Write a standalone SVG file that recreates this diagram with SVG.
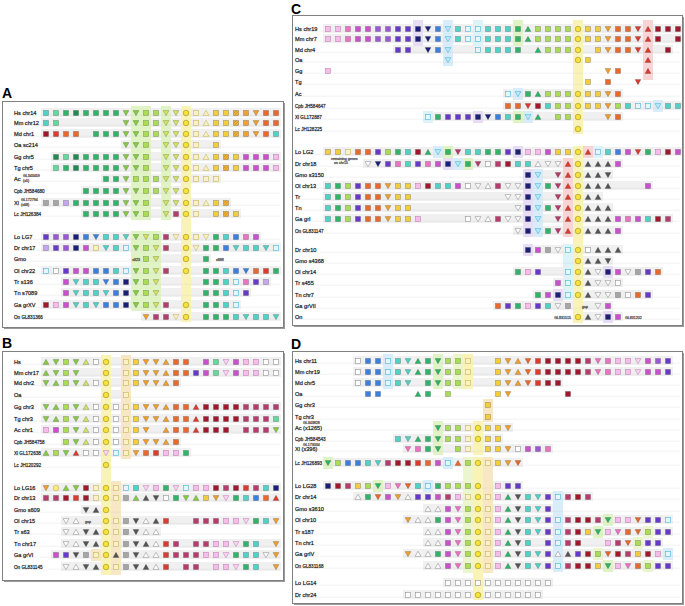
<svg xmlns="http://www.w3.org/2000/svg" width="685" height="606" viewBox="0 0 685 606">
<style>
.lb{font-family:"Liberation Sans",Arial,sans-serif;font-size:5.6px;fill:#1a1a1a}
.ls{font-size:4.6px}
.sm{font-family:"Liberation Sans",Arial,sans-serif;font-size:3.6px;fill:#444}
.pl{font-family:"Liberation Sans",Arial,sans-serif;font-size:14px;font-weight:bold;fill:#000}
.ln{stroke:#cbcbcb;stroke-width:.7;fill:none}
.fr{fill:#fff;stroke:#808080;stroke-width:1}
.sh{fill:#9a9a9a}
.bk{fill:#f0f0f0}
.sy{stroke:#000;stroke-opacity:.35;stroke-width:.55}
.hg{fill:#e0f3c4}.hy{fill:#faf3b6}.ht{fill:#f8e7c4}.hb{fill:#d9ecf9}.hp{fill:#e7def6}.hr{fill:#f9d4d4}.hc{fill:#dcf4f8}.hl{fill:#ebf6cf}
</style>
<defs>
<pattern id="ph" width="2" height="2" patternUnits="userSpaceOnUse" patternTransform="rotate(45)"><rect width="2" height="2" fill="#f2c440"/><rect width="1" height="2" fill="#d98a20"/></pattern>
<rect id="q" x="-2.5" y="-2.5" width="5" height="5"/>
<path id="d" d="M-2.9-2.4H2.9L0 2.7Z"/>
<path id="u" d="M0-2.7L2.9 2.4H-2.9Z"/>
<circle id="o" r="2.8"/>
<use id="qa" href="#q" fill="#4fd3c6"/><use id="qb" href="#q" fill="#62d99d"/><use id="qg" href="#q" fill="#2eb56a"/><use id="qG" href="#q" fill="#1e8c50"/>
<use id="qL" href="#q" fill="#abdc56"/><use id="qk" href="#q" fill="#f2cd3c"/><use id="qh" href="#q" fill="url(#ph)"/><use id="qo" href="#q" fill="#f0a02c"/>
<use id="qO" href="#q" fill="#e9682b"/><use id="qr" href="#q" fill="#df3a2e"/><use id="qR" href="#q" fill="#a3172d"/><use id="qx" href="#q" fill="#b73b6c"/>
<use id="qM" href="#q" fill="#ee72c3"/><use id="qm" href="#q" fill="#cc4fcf"/><use id="qn" href="#q" fill="#f3bfe8" stroke="#c47ab5" stroke-opacity="1"/><use id="qe" href="#q" fill="#c6a6ee"/>
<use id="qV" href="#q" fill="#9a58d6"/><use id="qv" href="#q" fill="#6638cc"/><use id="qB" href="#q" fill="#3b7fe0"/><use id="qN" href="#q" fill="#1b1f78"/>
<use id="qc" href="#q" fill="#e4f7fd" stroke="#3aaed6" stroke-opacity="1"/><use id="qw" href="#q" fill="#fff" stroke="#8a8a8a" stroke-opacity="1"/><use id="qs" href="#q" fill="#a6a6a6"/><use id="qS" href="#q" fill="#555"/>
<use id="qp" href="#q" fill="#f9f2c6" stroke="#c4ae55" stroke-opacity="1"/>
<use id="dl" href="#d" fill="#86cc45"/><use id="dy" href="#d" fill="#d4e45f"/><use id="do" href="#d" fill="#f0a02c"/><use id="dO" href="#d" fill="#e9682b"/>
<use id="dr" href="#d" fill="#df3a2e"/><use id="da" href="#d" fill="#4fd3c6"/><use id="dB" href="#d" fill="#3b7fe0"/><use id="dN" href="#d" fill="#1b1f78"/>
<use id="dc" href="#d" fill="#bfe9f8" stroke="#3aaed6" stroke-opacity="1"/><use id="dn" href="#d" fill="#f8d8f0" stroke="#c47ab5" stroke-opacity="1"/><use id="dp" href="#d" fill="#f9f2c6" stroke="#c4ae55" stroke-opacity="1"/><use id="dw" href="#d" fill="#fff" stroke="#8a8a8a" stroke-opacity="1"/>
<use id="dS" href="#d" fill="#555"/><use id="dg" href="#d" fill="#2eb56a"/><use id="dM" href="#d" fill="#ee72c3"/><use id="dx" href="#d" fill="#b73b6c"/>
<use id="ul" href="#u" fill="#86cc45"/><use id="uy" href="#u" fill="#d4e45f"/><use id="up" href="#u" fill="#f9f2c6" stroke="#c4ae55" stroke-opacity="1"/><use id="uo" href="#u" fill="#f0a02c"/>
<use id="ug" href="#u" fill="#2eb56a"/><use id="ur" href="#u" fill="#df3a2e"/><use id="uw" href="#u" fill="#fff" stroke="#8a8a8a" stroke-opacity="1"/><use id="uS" href="#u" fill="#555"/><use id="uO" href="#u" fill="#e9682b"/>
<use id="oY" href="#o" fill="#f5e23a" stroke="#7d6e00" stroke-opacity=".8"/><use id="ok" href="#o" fill="#fbe98a" stroke="#b59a00" stroke-opacity=".8"/>
</defs>
<rect width="685" height="606" fill="#fff"/>
<g id="frames">
<rect class="sh" x="4" y="103" width="281" height="226"/><rect class="fr" x="2.5" y="101.5" width="281" height="226"/>
<rect class="sh" x="4" y="353" width="281" height="229"/><rect class="fr" x="2.5" y="351.5" width="281" height="229"/>
<rect class="sh" x="294" y="17" width="390" height="310"/><rect class="fr" x="292.5" y="15.5" width="390" height="310"/>
<rect class="sh" x="294" y="353" width="390" height="252"/><rect class="fr" x="292.5" y="351.5" width="390" height="252"/>
</g>
<text class="pl" x="2" y="98">A</text>
<text class="pl" x="2" y="348">B</text>
<text class="pl" x="291" y="13.5">C</text>
<text class="pl" x="291" y="349">D</text>
<g id="blocks">
<rect class="bk" x="41" y="108" width="240" height="9"/><rect class="bk" x="41" y="118" width="240" height="9"/><rect class="bk" x="41" y="129" width="240" height="9"/><rect class="bk" x="121" y="140" width="100" height="9"/><rect class="bk" x="51" y="152" width="230" height="9"/><rect class="bk" x="51" y="163" width="230" height="9"/><rect class="bk" x="101" y="174" width="120" height="9"/><rect class="bk" x="81" y="186" width="110" height="9"/><rect class="bk" x="41" y="198" width="190" height="9"/><rect class="bk" x="81" y="209" width="160" height="9"/>
<rect class="bk" x="41" y="232" width="220" height="9"/><rect class="bk" x="41" y="243" width="240" height="9"/><rect class="bk" x="141" y="254" width="70" height="9"/><rect class="bk" x="41" y="266" width="240" height="9"/><rect class="bk" x="61" y="277" width="210" height="9"/><rect class="bk" x="61" y="288" width="190" height="9"/><rect class="bk" x="41" y="300" width="200" height="9"/><rect class="bk" x="141" y="312" width="140" height="9"/>
<rect class="bk" x="41" y="357" width="240" height="9"/><rect class="bk" x="41" y="368" width="240" height="9"/><rect class="bk" x="41" y="378" width="140" height="9"/><rect class="bk" x="101" y="390" width="30" height="9"/><rect class="bk" x="41" y="402" width="240" height="9"/><rect class="bk" x="41" y="414" width="240" height="9"/><rect class="bk" x="41" y="425" width="240" height="9"/><rect class="bk" x="61" y="437" width="120" height="9"/><rect class="bk" x="41" y="448" width="150" height="9"/>
<rect class="bk" x="41" y="483" width="240" height="9"/><rect class="bk" x="41" y="493" width="240" height="9"/><rect class="bk" x="81" y="505" width="30" height="9"/><rect class="bk" x="61" y="516" width="220" height="9"/><rect class="bk" x="61" y="527" width="100" height="9"/><rect class="bk" x="61" y="539" width="220" height="9"/><rect class="bk" x="51" y="550" width="230" height="9"/><rect class="bk" x="61" y="562" width="220" height="9"/>
<rect class="bk" x="323" y="24" width="359" height="9"/><rect class="bk" x="323" y="34" width="359" height="9"/><rect class="bk" x="393" y="45" width="280" height="9"/><rect class="bk" x="503" y="89" width="120" height="9"/><rect class="bk" x="503" y="101" width="179" height="9"/><rect class="bk" x="423" y="112" width="200" height="9"/>
<rect class="bk" x="323" y="147" width="359" height="9"/><rect class="bk" x="363" y="159" width="260" height="9"/><rect class="bk" x="523" y="170" width="90" height="9"/><rect class="bk" x="323" y="181" width="330" height="9"/><rect class="bk" x="323" y="192" width="280" height="9"/><rect class="bk" x="323" y="203" width="290" height="9"/><rect class="bk" x="323" y="214" width="350" height="9"/><rect class="bk" x="513" y="226" width="110" height="9"/>
<rect class="bk" x="523" y="245" width="100" height="9"/><rect class="bk" x="573" y="256" width="40" height="9"/><rect class="bk" x="513" y="267" width="150" height="9"/><rect class="bk" x="553" y="278" width="70" height="9"/><rect class="bk" x="533" y="290" width="120" height="9"/><rect class="bk" x="493" y="301" width="120" height="9"/><rect class="bk" x="573" y="312" width="50" height="9"/>
<rect class="bk" x="353" y="356" width="320" height="9"/><rect class="bk" x="353" y="367" width="320" height="9"/><rect class="bk" x="353" y="378" width="210" height="9"/><rect class="bk" x="433" y="423" width="80" height="9"/><rect class="bk" x="393" y="434" width="110" height="9"/><rect class="bk" x="403" y="444" width="150" height="9"/><rect class="bk" x="323" y="458" width="200" height="9"/>
<rect class="bk" x="323" y="481" width="200" height="9"/><rect class="bk" x="353" y="492" width="240" height="9"/><rect class="bk" x="423" y="504" width="130" height="9"/><rect class="bk" x="403" y="515" width="270" height="9"/><rect class="bk" x="423" y="527" width="250" height="9"/><rect class="bk" x="423" y="538" width="240" height="9"/><rect class="bk" x="403" y="549" width="270" height="9"/><rect class="bk" x="423" y="561" width="250" height="9"/><rect class="bk" x="443" y="578" width="110" height="9"/><rect class="bk" x="403" y="590" width="140" height="9"/>
</g>
<g id="highlights">
<rect class="hg" x="131" y="106" width="20" height="114"/><rect class="hg" x="161" y="106" width="10" height="114"/><rect class="hg" x="131" y="231" width="30" height="80"/><rect class="hy" x="181" y="106" width="10" height="216"/>
<rect class="hy" x="101" y="355" width="10" height="220"/><rect class="ht" x="121" y="355" width="10" height="104"/><rect class="ht" x="111" y="481" width="10" height="94"/><rect class="ht" x="91" y="549" width="10" height="12"/>
<rect class="hp" x="413" y="20" width="10" height="26"/><rect class="hb" x="443" y="20" width="10" height="46"/><rect class="hc" x="473" y="20" width="10" height="26"/><rect class="hg" x="513" y="20" width="10" height="26"/><rect class="hy" x="573" y="20" width="10" height="114"/><rect class="hr" x="643" y="20" width="10" height="60"/>
<rect class="hb" x="513" y="88" width="10" height="12"/><rect class="hb" x="653" y="100" width="10" height="12"/>
<rect class="hc" x="423" y="111" width="10" height="12"/><rect class="hp" x="473" y="111" width="10" height="12"/><rect class="hg" x="513" y="111" width="10" height="12"/><rect class="hb" x="523" y="111" width="10" height="12"/>
<rect class="hb" x="433" y="146" width="10" height="12"/><rect class="hg" x="443" y="146" width="10" height="12"/><rect class="hp" x="513" y="146" width="10" height="12"/><rect class="hr" x="583" y="146" width="10" height="12"/><rect class="hc" x="593" y="146" width="10" height="12"/>
<rect class="hp" x="443" y="158" width="10" height="12"/><rect class="hb" x="453" y="158" width="10" height="12"/><rect class="hg" x="463" y="158" width="10" height="12"/>
<rect class="hp" x="523" y="169" width="10" height="68"/><rect class="hb" x="533" y="169" width="10" height="68"/><rect class="hr" x="563" y="158" width="10" height="79"/><rect class="hy" x="573" y="146" width="10" height="177"/>
<rect class="hc" x="563" y="244" width="10" height="56"/><rect class="hp" x="523" y="244" width="10" height="12"/><rect class="hp" x="603" y="266" width="10" height="12"/><rect class="hp" x="553" y="289" width="10" height="12"/><rect class="hp" x="603" y="311" width="10" height="12"/>
<rect class="hb" x="383" y="354" width="10" height="35"/><rect class="hg" x="433" y="354" width="10" height="35"/><rect class="hl" x="453" y="354" width="10" height="35"/><rect class="hy" x="463" y="354" width="10" height="35"/>
<rect class="ht" x="483" y="399" width="10" height="23"/><rect class="hg" x="433" y="421" width="10" height="34"/><rect class="hy" x="473" y="421" width="10" height="34"/>
<rect class="hg" x="323" y="457" width="10" height="12"/><rect class="hb" x="443" y="457" width="10" height="12"/><rect class="hg" x="373" y="480" width="10" height="12"/><rect class="hb" x="423" y="480" width="10" height="12"/>
<rect class="hl" x="463" y="457" width="10" height="116"/><rect class="hy" x="473" y="457" width="10" height="143"/><rect class="ht" x="483" y="457" width="10" height="116"/><rect class="hb" x="553" y="491" width="10" height="81"/>
<rect class="hg" x="603" y="514" width="10" height="12"/><rect class="hg" x="593" y="526" width="10" height="12"/><rect class="hl" x="643" y="526" width="10" height="12"/><rect class="hl" x="633" y="537" width="10" height="12"/><rect class="hl" x="593" y="548" width="10" height="12"/><rect class="hb" x="663" y="548" width="10" height="12"/><rect class="hg" x="603" y="560" width="10" height="12"/><rect class="hl" x="643" y="560" width="10" height="12"/>
</g>
<g id="panelA" class="sy">
<g id="A1" transform="translate(0,113)"><path class="ln" d="M14 2.2H280"/><text class="lb" x="14" y="1.5">Hs chr14</text><use href="#qa" x="46"/><use href="#qb" x="56"/><use href="#qg" x="66"/><use href="#qG" x="76"/><use href="#qg" x="86"/><use href="#qg" x="96"/><use href="#qg" x="106"/><use href="#qg" x="116"/><use href="#dl" x="126"/><use href="#dl" x="136"/><use href="#qL" x="146"/><use href="#qL" x="156"/><use href="#dy" x="166"/><use href="#dy" x="176"/><use href="#oY" x="186"/><use href="#qp" x="196"/><use href="#up" x="206"/><use href="#qk" x="216"/><use href="#qk" x="226"/><use href="#qh" x="236"/><use href="#qo" x="246"/><use href="#do" x="256"/><use href="#qO" x="266"/><use href="#qO" x="276"/></g>
<g id="A2" transform="translate(0,123)"><path class="ln" d="M14 2.2H280"/><text class="lb" x="14" y="1.5">Mm chr12</text><use href="#qa" x="46"/><use href="#qb" x="56"/><use href="#dl" x="126"/><use href="#dl" x="136"/><use href="#qL" x="146"/><use href="#qL" x="156"/><use href="#dy" x="166"/><use href="#dy" x="176"/><use href="#oY" x="186"/><use href="#qp" x="196"/><use href="#up" x="206"/><use href="#qk" x="216"/><use href="#qk" x="226"/><use href="#qh" x="236"/><use href="#qo" x="246"/><use href="#do" x="256"/><use href="#qO" x="266"/><use href="#qO" x="276"/></g>
<g id="A3" transform="translate(0,134)"><path class="ln" d="M14 2.2H280"/><text class="lb" x="14" y="1.5">Md chr1</text><use href="#qR" x="46"/><use href="#qr" x="56"/><use href="#qO" x="66"/><use href="#qO" x="76"/><use href="#qg" x="96"/><use href="#qg" x="106"/><use href="#qg" x="116"/><use href="#dl" x="126"/><use href="#dl" x="136"/><use href="#qL" x="146"/><use href="#qL" x="156"/><use href="#dy" x="166"/><use href="#dy" x="176"/><use href="#oY" x="186"/><use href="#qp" x="196"/><use href="#up" x="206"/><use href="#qk" x="216"/><use href="#qk" x="226"/><use href="#qh" x="236"/><use href="#qo" x="246"/><use href="#do" x="256"/><use href="#qO" x="266"/><use href="#qa" x="276"/></g>
<g id="A4" transform="translate(0,145)"><path class="ln" d="M14 2.2H280"/><text class="lb" x="14" y="1.5">Oa sc214</text><use href="#dl" x="126"/><use href="#dl" x="136"/><use href="#qL" x="146"/><use href="#dy" x="166"/><use href="#dy" x="176"/><use href="#oY" x="186"/><use href="#qp" x="196"/><use href="#qk" x="216"/></g>
<g id="A5" transform="translate(0,157)"><path class="ln" d="M14 2.2H280"/><text class="lb" x="14" y="1.5">Gg chr5</text><use href="#qG" x="56"/><use href="#qb" x="66"/><use href="#qG" x="76"/><use href="#qg" x="86"/><use href="#qg" x="96"/><use href="#qg" x="106"/><use href="#qg" x="116"/><use href="#dl" x="126"/><use href="#dl" x="136"/><use href="#qL" x="146"/><use href="#dy" x="166"/><use href="#dy" x="176"/><use href="#oY" x="186"/><use href="#qp" x="196"/><use href="#up" x="206"/><use href="#qk" x="216"/><use href="#qh" x="226"/><use href="#qk" x="236"/><use href="#qm" x="246"/><use href="#qm" x="256"/><use href="#qm" x="266"/><use href="#qn" x="276"/></g>
<g id="A6" transform="translate(0,168)"><path class="ln" d="M14 2.2H280"/><text class="lb" x="14" y="1.5">Tg chr5</text><use href="#qb" x="56"/><use href="#qg" x="66"/><use href="#qG" x="76"/><use href="#qg" x="86"/><use href="#qg" x="96"/><use href="#qg" x="106"/><use href="#qg" x="116"/><use href="#dl" x="126"/><use href="#dl" x="136"/><use href="#qL" x="146"/><use href="#dy" x="166"/><use href="#dy" x="176"/><use href="#oY" x="186"/><use href="#qp" x="196"/><use href="#up" x="206"/><use href="#qk" x="216"/><use href="#qh" x="226"/><use href="#qk" x="236"/><use href="#qm" x="246"/><use href="#qm" x="256"/><use href="#qm" x="266"/><use href="#qn" x="276"/></g>
<g id="A7" transform="translate(0,179)"><path class="ln" d="M14 2.2H280"/><text class="lb" x="14" y="1.5">Ac</text><text class="sm" x="23" y="-2">GL343459</text><text class="sm" x="23" y="3">(x5)</text><use href="#qg" x="106"/><use href="#qg" x="116"/><use href="#dl" x="126"/><use href="#qL" x="136"/><use href="#qL" x="146"/><use href="#qL" x="156"/><use href="#dy" x="166"/><use href="#dy" x="176"/><use href="#oY" x="186"/><use href="#qp" x="196"/><use href="#qp" x="206"/><use href="#qp" x="216"/></g>
<g id="A8" transform="translate(0,191)"><path class="ln" d="M14 2.2H280"/><text class="lb ls" x="14" y="1.5">Cpb JH584680</text><use href="#qg" x="86"/><use href="#qg" x="96"/><use href="#qg" x="106"/><use href="#qg" x="116"/><use href="#dl" x="126"/><use href="#dl" x="136"/><use href="#qL" x="146"/><use href="#qL" x="156"/><use href="#dy" x="166"/><use href="#dy" x="176"/><use href="#oY" x="186"/></g>
<g id="A9" transform="translate(0,203)"><path class="ln" d="M14 2.2H280"/><text class="lb" x="14" y="1.5">Xl</text><text class="sm" x="21" y="-2">GL172794</text><text class="sm" x="21" y="3">(x68)</text><use href="#qs" x="46"/><use href="#qs" x="56"/><use href="#qe" x="66"/><use href="#qg" x="76"/><use href="#qg" x="86"/><use href="#qg" x="96"/><use href="#qg" x="106"/><use href="#qg" x="116"/><use href="#dl" x="126"/><use href="#dl" x="136"/><use href="#qL" x="146"/><use href="#dy" x="166"/><use href="#dy" x="176"/><use href="#oY" x="186"/><use href="#qp" x="196"/><use href="#up" x="206"/><use href="#qk" x="216"/><use href="#qh" x="226"/></g>
<g id="A10" transform="translate(0,214)"><path class="ln" d="M14 2.2H280"/><text class="lb ls" x="14" y="1.5">Lc JH126384</text><use href="#qg" x="86"/><use href="#qg" x="96"/><use href="#qg" x="106"/><use href="#qg" x="116"/><use href="#dl" x="126"/><use href="#dl" x="136"/><use href="#qL" x="146"/><use href="#dy" x="166"/><use href="#qx" x="176"/><use href="#oY" x="186"/><use href="#qp" x="196"/><use href="#qk" x="216"/><use href="#qh" x="226"/><use href="#qk" x="236"/></g>
<g id="A11" transform="translate(0,237)"><path class="ln" d="M14 2.2H280"/><text class="lb" x="14" y="1.5">Lo LG7</text><use href="#qv" x="46"/><use href="#qV" x="56"/><use href="#qV" x="66"/><use href="#qN" x="76"/><use href="#qB" x="86"/><use href="#dB" x="96"/><use href="#qa" x="106"/><use href="#qa" x="116"/><use href="#da" x="126"/><use href="#dl" x="136"/><use href="#dy" x="146"/><use href="#qL" x="156"/><use href="#qx" x="166"/><use href="#dp" x="176"/><use href="#oY" x="186"/><use href="#qp" x="196"/><use href="#dp" x="206"/><use href="#qg" x="216"/><use href="#qa" x="226"/><use href="#qB" x="236"/><use href="#qM" x="246"/><use href="#qm" x="256"/></g>
<g id="A12" transform="translate(0,248)"><path class="ln" d="M14 2.2H280"/><text class="lb" x="14" y="1.5">Dr chr17</text><use href="#qe" x="46"/><use href="#qv" x="56"/><use href="#qV" x="66"/><use href="#qN" x="76"/><use href="#qm" x="86"/><use href="#qp" x="96"/><use href="#da" x="106"/><use href="#qa" x="116"/><use href="#qc" x="126"/><use href="#dl" x="136"/><use href="#qL" x="146"/><use href="#dy" x="156"/><use href="#qx" x="166"/><use href="#oY" x="186"/><use href="#dp" x="196"/><use href="#qg" x="206"/><use href="#qg" x="216"/><use href="#qB" x="226"/><use href="#da" x="236"/><use href="#qa" x="246"/><use href="#qa" x="256"/><use href="#da" x="266"/><use href="#qc" x="276"/></g>
<g id="A13" transform="translate(0,259)"><path class="ln" d="M14 2.2H280"/><text class="lb" x="14" y="1.5">Gmo</text><text class="sm" x="140" y="1.5" text-anchor="end">s923</text><text class="sm" x="216" y="1.5">s888</text><use href="#qL" x="146"/><use href="#dy" x="156"/><use href="#oY" x="186"/><use href="#qg" x="206"/></g>
<g id="A14" transform="translate(0,271)"><path class="ln" d="M14 2.2H280"/><text class="lb" x="14" y="1.5">Ol chr22</text><use href="#qc" x="46"/><use href="#qw" x="56"/><use href="#qv" x="66"/><use href="#qm" x="76"/><use href="#qm" x="86"/><use href="#qB" x="96"/><use href="#qB" x="106"/><use href="#qa" x="116"/><use href="#qc" x="126"/><use href="#dl" x="136"/><use href="#qL" x="146"/><use href="#dy" x="156"/><use href="#qx" x="166"/><use href="#oY" x="186"/><use href="#qg" x="206"/><use href="#qg" x="216"/><use href="#qa" x="226"/><use href="#qB" x="236"/><use href="#dB" x="246"/><use href="#qO" x="256"/><use href="#qr" x="266"/><use href="#qg" x="276"/></g>
<g id="A15" transform="translate(0,282)"><path class="ln" d="M14 2.2H280"/><text class="lb" x="14" y="1.5">Tr s136</text><use href="#qm" x="66"/><use href="#da" x="76"/><use href="#qa" x="86"/><use href="#qa" x="96"/><use href="#dB" x="106"/><use href="#qB" x="116"/><use href="#qN" x="126"/><use href="#dl" x="136"/><use href="#qL" x="146"/><use href="#dy" x="156"/><use href="#qg" x="206"/><use href="#qg" x="216"/><use href="#qa" x="226"/><use href="#qc" x="236"/><use href="#qM" x="246"/><use href="#qv" x="256"/><use href="#qe" x="266"/></g>
<g id="A16" transform="translate(0,293)"><path class="ln" d="M14 2.2H280"/><text class="lb" x="14" y="1.5">Tn s7089</text><use href="#qm" x="66"/><use href="#da" x="76"/><use href="#qa" x="86"/><use href="#qa" x="96"/><use href="#da" x="106"/><use href="#qB" x="116"/><use href="#qN" x="126"/><use href="#dl" x="136"/><use href="#qL" x="146"/><use href="#dy" x="156"/><use href="#qg" x="206"/><use href="#qg" x="216"/><use href="#qa" x="226"/><use href="#qc" x="236"/><use href="#qv" x="246"/></g>
<g id="A17" transform="translate(0,305)"><path class="ln" d="M14 2.2H280"/><text class="lb" x="14" y="1.5">Ga grXV</text><use href="#qR" x="46"/><use href="#qn" x="56"/><use href="#qm" x="66"/><use href="#da" x="76"/><use href="#qa" x="86"/><use href="#da" x="96"/><use href="#qB" x="106"/><use href="#qB" x="116"/><use href="#qN" x="126"/><use href="#dl" x="136"/><use href="#qL" x="146"/><use href="#dy" x="156"/><use href="#qx" x="166"/><use href="#oY" x="186"/><use href="#qg" x="206"/><use href="#qg" x="216"/><use href="#qa" x="226"/><use href="#qc" x="236"/></g>
<g id="A18" transform="translate(0,317)"><path class="ln" d="M14 2.2H280"/><text class="lb ls" x="14" y="1.5">On GL831366</text><use href="#do" x="146"/><use href="#qx" x="156"/><use href="#qx" x="166"/><use href="#dp" x="176"/><use href="#oY" x="186"/><use href="#qg" x="206"/><use href="#qg" x="216"/><use href="#qg" x="226"/><use href="#qa" x="236"/><use href="#da" x="246"/><use href="#qa" x="256"/><use href="#qa" x="266"/><use href="#da" x="276"/></g>
</g>
<g id="panelB" class="sy">
<g id="B1" transform="translate(0,362)"><path class="ln" d="M14 2.2H280"/><text class="lb" x="14" y="1.5">Hs</text><use href="#ul" x="46"/><use href="#dl" x="56"/><use href="#qL" x="66"/><use href="#dl" x="76"/><use href="#uy" x="86"/><use href="#qw" x="96"/><use href="#oY" x="106"/><use href="#qp" x="126"/><use href="#qk" x="136"/><use href="#do" x="146"/><use href="#do" x="156"/><use href="#uo" x="166"/><use href="#qO" x="176"/><use href="#qO" x="186"/><use href="#qm" x="206"/><use href="#qb" x="216"/><use href="#dn" x="226"/><use href="#qm" x="236"/><use href="#qn" x="246"/><use href="#qn" x="256"/><use href="#qw" x="266"/><use href="#qw" x="276"/></g>
<g id="B2" transform="translate(0,373)"><path class="ln" d="M14 2.2H280"/><text class="lb" x="14" y="1.5">Mm chr17</text><use href="#ul" x="46"/><use href="#dl" x="56"/><use href="#qL" x="66"/><use href="#dl" x="76"/><use href="#oY" x="106"/><use href="#qp" x="126"/><use href="#qk" x="136"/><use href="#do" x="146"/><use href="#do" x="156"/><use href="#uo" x="166"/><use href="#qO" x="176"/><use href="#qO" x="186"/><use href="#qv" x="196"/><use href="#qm" x="206"/><use href="#qb" x="216"/><use href="#dn" x="226"/><use href="#qm" x="236"/><use href="#qn" x="246"/><use href="#qn" x="256"/><use href="#qw" x="266"/><use href="#qw" x="276"/></g>
<g id="B3" transform="translate(0,383)"><path class="ln" d="M14 2.2H280"/><text class="lb" x="14" y="1.5">Md chr2</text><use href="#dl" x="46"/><use href="#ul" x="56"/><use href="#qL" x="66"/><use href="#dl" x="76"/><use href="#uy" x="86"/><use href="#qw" x="96"/><use href="#oY" x="106"/><use href="#qp" x="126"/><use href="#qk" x="136"/><use href="#do" x="146"/><use href="#do" x="156"/><use href="#uo" x="166"/><use href="#qO" x="176"/></g>
<g id="B4" transform="translate(0,395)"><path class="ln" d="M14 2.2H280"/><text class="lb" x="14" y="1.5">Oa</text><use href="#oY" x="106"/><use href="#qp" x="126"/></g>
<g id="B5" transform="translate(0,407)"><path class="ln" d="M14 2.2H280"/><text class="lb" x="14" y="1.5">Gg chr3</text><use href="#dl" x="46"/><use href="#ul" x="56"/><use href="#qL" x="66"/><use href="#dl" x="76"/><use href="#uy" x="86"/><use href="#qw" x="96"/><use href="#oY" x="106"/><use href="#qw" x="116"/><use href="#qp" x="126"/><use href="#qk" x="136"/><use href="#do" x="146"/><use href="#do" x="156"/><use href="#uo" x="166"/><use href="#qO" x="176"/><use href="#qO" x="186"/><use href="#ur" x="196"/><use href="#qR" x="206"/><use href="#qR" x="216"/><use href="#qR" x="226"/><use href="#qR" x="236"/><use href="#qx" x="246"/><use href="#qx" x="256"/><use href="#qx" x="266"/><use href="#qx" x="276"/></g>
<g id="B6" transform="translate(0,419)"><path class="ln" d="M14 2.2H280"/><text class="lb" x="14" y="1.5">Tg chr3</text><use href="#dl" x="46"/><use href="#ul" x="56"/><use href="#qL" x="66"/><use href="#dl" x="76"/><use href="#uy" x="86"/><use href="#qw" x="96"/><use href="#oY" x="106"/><use href="#qw" x="116"/><use href="#qp" x="126"/><use href="#qk" x="136"/><use href="#do" x="146"/><use href="#do" x="156"/><use href="#uo" x="166"/><use href="#qO" x="176"/><use href="#qO" x="186"/><use href="#ur" x="196"/><use href="#qR" x="206"/><use href="#qR" x="216"/><use href="#qR" x="226"/><use href="#qR" x="236"/><use href="#qx" x="246"/><use href="#qx" x="256"/><use href="#qx" x="266"/><use href="#qb" x="276"/></g>
<g id="B7" transform="translate(0,430)"><path class="ln" d="M14 2.2H280"/><text class="lb" x="14" y="1.5">Ac chr1</text><use href="#qn" x="46"/><use href="#qm" x="56"/><use href="#qL" x="66"/><use href="#dl" x="76"/><use href="#uy" x="86"/><use href="#qw" x="96"/><use href="#oY" x="106"/><use href="#qw" x="116"/><use href="#qp" x="126"/><use href="#qk" x="136"/><use href="#do" x="146"/><use href="#uo" x="166"/><use href="#qO" x="176"/><use href="#qO" x="186"/><use href="#ur" x="196"/><use href="#qR" x="206"/><use href="#qR" x="216"/><use href="#qR" x="226"/><use href="#qx" x="246"/><use href="#qx" x="256"/><use href="#qx" x="266"/><use href="#dl" x="276"/></g>
<g id="B8" transform="translate(0,442)"><path class="ln" d="M14 2.2H280"/><text class="lb ls" x="14" y="1.5">Cpb JH584758</text><use href="#qL" x="66"/><use href="#dl" x="76"/><use href="#uy" x="86"/><use href="#qw" x="96"/><use href="#oY" x="106"/><use href="#qw" x="116"/><use href="#qp" x="126"/><use href="#qk" x="136"/><use href="#do" x="146"/><use href="#do" x="156"/><use href="#uo" x="166"/><use href="#qO" x="176"/></g>
<g id="B9" transform="translate(0,453)"><path class="ln" d="M14 2.2H280"/><text class="lb ls" x="14" y="1.5">Xl GL172638</text><use href="#ul" x="46"/><use href="#qL" x="56"/><use href="#dl" x="66"/><use href="#ur" x="76"/><use href="#qw" x="86"/><use href="#qw" x="96"/><use href="#dn" x="106"/><use href="#qc" x="116"/><use href="#qp" x="126"/><use href="#do" x="136"/><use href="#qO" x="146"/><use href="#qr" x="156"/><use href="#qn" x="166"/><use href="#qn" x="176"/><use href="#qg" x="186"/></g>
<g id="B10" transform="translate(0,465)"><path class="ln" d="M14 2.2H280"/><text class="lb ls" x="14" y="1.5">Lc JH120292</text><use href="#oY" x="106"/></g>
<g id="B11" transform="translate(0,488)"><path class="ln" d="M14 2.2H280"/><text class="lb" x="14" y="1.5">Lo LG16</text><use href="#do" x="46"/><use href="#ok" x="56"/><use href="#ul" x="66"/><use href="#dl" x="76"/><use href="#qR" x="86"/><use href="#qp" x="96"/><use href="#oY" x="106"/><use href="#qp" x="116"/><use href="#qc" x="126"/><use href="#qa" x="136"/><use href="#dn" x="146"/><use href="#qn" x="156"/><use href="#qg" x="166"/><use href="#dn" x="176"/><use href="#qc" x="186"/><use href="#qn" x="196"/><use href="#qn" x="206"/><use href="#qR" x="216"/><use href="#qx" x="226"/><use href="#qR" x="236"/><use href="#qr" x="246"/><use href="#qx" x="256"/><use href="#qa" x="266"/><use href="#qN" x="276"/></g>
<g id="B12" transform="translate(0,498)"><path class="ln" d="M14 2.2H280"/><text class="lb" x="14" y="1.5">Dr chr13</text><use href="#qx" x="46"/><use href="#qx" x="56"/><use href="#qR" x="66"/><use href="#qr" x="76"/><use href="#qR" x="86"/><use href="#qp" x="96"/><use href="#oY" x="106"/><use href="#qp" x="116"/><use href="#qs" x="126"/><use href="#ul" x="136"/><use href="#uS" x="146"/><use href="#dS" x="156"/><use href="#qw" x="166"/><use href="#qg" x="176"/><use href="#dl" x="186"/><use href="#ul" x="196"/><use href="#qk" x="206"/><use href="#do" x="216"/><use href="#dn" x="226"/><use href="#qg" x="236"/><use href="#qa" x="246"/><use href="#qB" x="256"/><use href="#qO" x="266"/><use href="#ur" x="276"/></g>
<g id="B13" transform="translate(0,510)"><path class="ln" d="M14 2.2H280"/><text class="lb" x="14" y="1.5">Gmo s609</text><use href="#dS" x="86"/><use href="#uS" x="96"/><use href="#oY" x="106"/></g>
<g id="B14" transform="translate(0,521)"><path class="ln" d="M14 2.2H280"/><text class="lb" x="14" y="1.5">Ol chr15</text><text class="sm" x="85" y="1.5">gap</text><use href="#dw" x="66"/><use href="#uw" x="76"/><use href="#oY" x="106"/><use href="#qp" x="116"/><use href="#qs" x="126"/><use href="#dS" x="136"/><use href="#uw" x="146"/><use href="#uS" x="156"/><use href="#qr" x="166"/><use href="#qx" x="196"/><use href="#qx" x="206"/><use href="#qx" x="216"/><use href="#qn" x="226"/><use href="#qn" x="236"/><use href="#dn" x="246"/><use href="#qg" x="256"/><use href="#qa" x="266"/><use href="#do" x="276"/></g>
<g id="B15" transform="translate(0,532)"><path class="ln" d="M14 2.2H280"/><text class="lb" x="14" y="1.5">Tr s63</text><use href="#dw" x="66"/><use href="#uw" x="76"/><use href="#dS" x="86"/><use href="#uS" x="96"/><use href="#oY" x="106"/><use href="#qp" x="116"/><use href="#qs" x="126"/><use href="#dS" x="136"/><use href="#uw" x="146"/><use href="#uw" x="156"/></g>
<g id="B16" transform="translate(0,544)"><path class="ln" d="M14 2.2H280"/><text class="lb" x="14" y="1.5">Tn chr17</text><use href="#dw" x="66"/><use href="#uw" x="76"/><use href="#dS" x="86"/><use href="#uS" x="96"/><use href="#oY" x="106"/><use href="#qp" x="116"/><use href="#qs" x="126"/><use href="#dS" x="136"/><use href="#uS" x="146"/><use href="#uw" x="156"/><use href="#qr" x="166"/><use href="#qx" x="176"/><use href="#qx" x="196"/><use href="#qx" x="206"/><use href="#qn" x="216"/><use href="#qn" x="226"/><use href="#dn" x="236"/><use href="#qg" x="246"/><use href="#qa" x="256"/><use href="#do" x="276"/></g>
<g id="B17" transform="translate(0,555)"><path class="ln" d="M14 2.2H280"/><text class="lb" x="14" y="1.5">Ga grVI</text><use href="#qm" x="56"/><use href="#qv" x="66"/><use href="#dS" x="76"/><use href="#qs" x="86"/><use href="#qp" x="96"/><use href="#oY" x="106"/><use href="#uS" x="116"/><use href="#qs" x="126"/><use href="#dS" x="136"/><use href="#uw" x="146"/><use href="#uw" x="156"/><use href="#qr" x="166"/><use href="#qx" x="176"/><use href="#qx" x="186"/><use href="#qx" x="196"/><use href="#qn" x="206"/><use href="#qn" x="216"/><use href="#dn" x="226"/><use href="#qg" x="236"/><use href="#qa" x="246"/><use href="#qa" x="256"/><use href="#dw" x="266"/><use href="#do" x="276"/></g>
<g id="B18" transform="translate(0,567)"><path class="ln" d="M14 2.2H280"/><text class="lb ls" x="14" y="1.5">On GL831145</text><use href="#dw" x="66"/><use href="#uw" x="76"/><use href="#dS" x="86"/><use href="#uS" x="96"/><use href="#oY" x="106"/><use href="#qp" x="116"/><use href="#qs" x="126"/><use href="#dS" x="136"/><use href="#uS" x="146"/><use href="#uw" x="156"/><use href="#qr" x="166"/><use href="#qx" x="186"/><use href="#qx" x="196"/><use href="#qn" x="216"/><use href="#qn" x="226"/><use href="#dn" x="236"/><use href="#qg" x="246"/><use href="#qa" x="256"/><use href="#do" x="276"/></g>
</g>
<g id="panelC" class="sy">
<g id="C1" transform="translate(0,29)"><path class="ln" d="M295 2.2H680"/><text class="lb" x="295" y="1.5">Hs chr19</text><use href="#qn" x="328"/><use href="#qn" x="338"/><use href="#qM" x="348"/><use href="#qm" x="358"/><use href="#qm" x="368"/><use href="#qV" x="378"/><use href="#qV" x="388"/><use href="#qv" x="398"/><use href="#qv" x="408"/><use href="#qN" x="418"/><use href="#dN" x="428"/><use href="#qB" x="438"/><use href="#dc" x="448"/><use href="#qa" x="458"/><use href="#qc" x="468"/><use href="#qc" x="478"/><use href="#qa" x="488"/><use href="#qa" x="498"/><use href="#qa" x="508"/><use href="#qg" x="518"/><use href="#ug" x="528"/><use href="#qL" x="538"/><use href="#qL" x="548"/><use href="#qL" x="558"/><use href="#qL" x="568"/><use href="#oY" x="578"/><use href="#qk" x="588"/><use href="#qk" x="598"/><use href="#do" x="608"/><use href="#qO" x="618"/><use href="#qO" x="628"/><use href="#dr" x="638"/><use href="#ur" x="648"/><use href="#qR" x="658"/><use href="#qR" x="668"/><use href="#qR" x="678"/></g>
<g id="C2" transform="translate(0,39)"><path class="ln" d="M295 2.2H680"/><text class="lb" x="295" y="1.5">Mm chr7</text><use href="#qn" x="328"/><use href="#qn" x="338"/><use href="#qM" x="348"/><use href="#qm" x="358"/><use href="#qm" x="368"/><use href="#qV" x="378"/><use href="#qV" x="388"/><use href="#qv" x="398"/><use href="#qv" x="408"/><use href="#qN" x="418"/><use href="#dN" x="428"/><use href="#qB" x="438"/><use href="#dc" x="448"/><use href="#qa" x="458"/><use href="#qc" x="468"/><use href="#qc" x="478"/><use href="#qa" x="488"/><use href="#qa" x="498"/><use href="#qa" x="508"/><use href="#qg" x="518"/><use href="#ug" x="528"/><use href="#qL" x="538"/><use href="#qL" x="548"/><use href="#qL" x="558"/><use href="#qL" x="568"/><use href="#oY" x="578"/><use href="#qk" x="588"/><use href="#qk" x="598"/><use href="#do" x="608"/><use href="#qO" x="618"/><use href="#qO" x="628"/><use href="#dr" x="638"/><use href="#ur" x="648"/><use href="#qR" x="658"/><use href="#qR" x="678"/></g>
<g id="C3" transform="translate(0,50)"><path class="ln" d="M295 2.2H680"/><text class="lb" x="295" y="1.5">Md chr4</text><use href="#qv" x="398"/><use href="#qv" x="408"/><use href="#dN" x="428"/><use href="#qB" x="438"/><use href="#dc" x="448"/><use href="#qc" x="478"/><use href="#qa" x="488"/><use href="#qa" x="498"/><use href="#qa" x="508"/><use href="#qg" x="518"/><use href="#ug" x="538"/><use href="#qL" x="548"/><use href="#qL" x="558"/><use href="#qL" x="568"/><use href="#oY" x="578"/><use href="#qk" x="598"/><use href="#do" x="608"/><use href="#qO" x="618"/><use href="#qO" x="628"/><use href="#dr" x="638"/><use href="#ur" x="648"/><use href="#qR" x="668"/></g>
<g id="C4" transform="translate(0,60)"><path class="ln" d="M295 2.2H680"/><text class="lb" x="295" y="1.5">Oa</text><use href="#dc" x="448"/><use href="#oY" x="578"/><use href="#qk" x="588"/><use href="#ur" x="648"/></g>
<g id="C5" transform="translate(0,71)"><path class="ln" d="M295 2.2H680"/><text class="lb" x="295" y="1.5">Gg</text><use href="#qn" x="328"/><use href="#do" x="608"/><use href="#qO" x="618"/><use href="#ur" x="648"/></g>
<g id="C6" transform="translate(0,82)"><path class="ln" d="M295 2.2H680"/><text class="lb" x="295" y="1.5">Tg</text><use href="#qk" x="588"/><use href="#qO" x="608"/><use href="#dr" x="638"/></g>
<g id="C7" transform="translate(0,94)"><path class="ln" d="M295 2.2H680"/><text class="lb" x="295" y="1.5">Ac</text><use href="#qc" x="508"/><use href="#dc" x="518"/><use href="#qg" x="528"/><use href="#ug" x="538"/><use href="#qL" x="548"/><use href="#qL" x="558"/><use href="#qL" x="568"/><use href="#oY" x="578"/><use href="#qk" x="588"/><use href="#qk" x="598"/><use href="#do" x="608"/><use href="#qO" x="618"/></g>
<g id="C8" transform="translate(0,106)"><path class="ln" d="M295 2.2H680"/><text class="lb ls" x="295" y="1.5">Cpb JH584647</text><use href="#qO" x="508"/><use href="#qO" x="518"/><use href="#dr" x="528"/><use href="#qR" x="538"/><use href="#qa" x="548"/><use href="#qL" x="558"/><use href="#qL" x="568"/><use href="#oY" x="578"/><use href="#qk" x="588"/><use href="#qk" x="598"/><use href="#do" x="608"/><use href="#qL" x="618"/><use href="#qa" x="628"/><use href="#qc" x="638"/><use href="#qc" x="648"/><use href="#dc" x="658"/><use href="#qa" x="668"/><use href="#qa" x="678"/></g>
<g id="C9" transform="translate(0,117)"><path class="ln" d="M295 2.2H680"/><text class="lb ls" x="295" y="1.5">Xl GL172887</text><use href="#qc" x="428"/><use href="#qg" x="438"/><use href="#qv" x="448"/><use href="#qv" x="458"/><use href="#qv" x="468"/><use href="#qN" x="478"/><use href="#dN" x="488"/><use href="#qB" x="498"/><use href="#qa" x="508"/><use href="#qg" x="518"/><use href="#dc" x="528"/><use href="#ug" x="538"/><use href="#qL" x="558"/><use href="#qL" x="568"/><use href="#oY" x="578"/><use href="#do" x="608"/><use href="#qO" x="618"/></g>
<g id="C10" transform="translate(0,129)"><path class="ln" d="M295 2.2H680"/><text class="lb ls" x="295" y="1.5">Lc JH128225</text><use href="#oY" x="578"/></g>
<g id="C11" transform="translate(0,152)"><path class="ln" d="M295 2.2H680"/><text class="lb" x="295" y="1.5">Lo LG2</text><use href="#qk" x="328"/><use href="#qk" x="338"/><use href="#qp" x="348"/><use href="#qO" x="358"/><use href="#qO" x="368"/><use href="#qv" x="378"/><use href="#qL" x="388"/><use href="#qg" x="398"/><use href="#qa" x="408"/><use href="#qR" x="418"/><use href="#ug" x="428"/><use href="#dc" x="438"/><use href="#qg" x="448"/><use href="#dx" x="458"/><use href="#qa" x="468"/><use href="#qa" x="478"/><use href="#qg" x="488"/><use href="#qg" x="498"/><use href="#qv" x="508"/><use href="#qN" x="518"/><use href="#qn" x="528"/><use href="#qn" x="538"/><use href="#qm" x="548"/><use href="#qk" x="558"/><use href="#qk" x="568"/><use href="#oY" x="578"/><use href="#ur" x="588"/><use href="#qc" x="598"/><use href="#qa" x="608"/><use href="#qB" x="618"/><use href="#qm" x="628"/><use href="#dr" x="638"/><use href="#qg" x="648"/><use href="#qn" x="658"/><use href="#qR" x="668"/><use href="#qm" x="678"/></g>
<g id="C12" transform="translate(0,164)"><path class="ln" d="M295 2.2H680"/><text class="lb" x="295" y="1.5">Dr chr18</text><text class="sm" x="331" y="-4">remaining genes</text><text class="sm" x="334" y="0">on chr15</text><use href="#dw" x="368"/><use href="#dN" x="378"/><use href="#qv" x="388"/><use href="#qM" x="398"/><use href="#qa" x="408"/><use href="#qv" x="418"/><use href="#qM" x="428"/><use href="#qm" x="438"/><use href="#qN" x="448"/><use href="#dc" x="458"/><use href="#qg" x="468"/><use href="#dx" x="478"/><use href="#qw" x="488"/><use href="#qx" x="498"/><use href="#qR" x="508"/><use href="#qa" x="518"/><use href="#qa" x="528"/><use href="#uw" x="538"/><use href="#dw" x="548"/><use href="#dw" x="558"/><use href="#ur" x="568"/><use href="#oY" x="578"/><use href="#uS" x="588"/><use href="#uS" x="598"/><use href="#uS" x="608"/><use href="#qm" x="618"/></g>
<g id="C13" transform="translate(0,175)"><path class="ln" d="M295 2.2H680"/><text class="lb" x="295" y="1.5">Gmo s3150</text><use href="#qN" x="528"/><use href="#dc" x="538"/><use href="#dx" x="558"/><use href="#ur" x="568"/><use href="#oY" x="578"/><use href="#uS" x="588"/><use href="#uS" x="598"/><use href="#dS" x="608"/></g>
<g id="C14" transform="translate(0,186)"><path class="ln" d="M295 2.2H680"/><text class="lb" x="295" y="1.5">Ol chr13</text><use href="#qa" x="328"/><use href="#qg" x="338"/><use href="#qL" x="348"/><use href="#qv" x="358"/><use href="#qO" x="368"/><use href="#qO" x="378"/><use href="#do" x="388"/><use href="#qk" x="398"/><use href="#qk" x="408"/><use href="#qn" x="418"/><use href="#qR" x="428"/><use href="#qa" x="438"/><use href="#qa" x="448"/><use href="#qm" x="458"/><use href="#qw" x="468"/><use href="#dw" x="478"/><use href="#uw" x="488"/><use href="#qx" x="498"/><use href="#dw" x="508"/><use href="#dw" x="518"/><use href="#qN" x="528"/><use href="#dc" x="538"/><use href="#qg" x="548"/><use href="#dx" x="558"/><use href="#ur" x="568"/><use href="#oY" x="578"/><use href="#uS" x="588"/><use href="#uS" x="598"/><use href="#uS" x="608"/><use href="#qm" x="648"/></g>
<g id="C15" transform="translate(0,197)"><path class="ln" d="M295 2.2H680"/><text class="lb" x="295" y="1.5">Tr</text><use href="#qa" x="328"/><use href="#qg" x="338"/><use href="#qL" x="348"/><use href="#qv" x="358"/><use href="#qO" x="368"/><use href="#qO" x="378"/><use href="#do" x="388"/><use href="#qk" x="398"/><use href="#qk" x="408"/><use href="#dw" x="508"/><use href="#dw" x="518"/><use href="#qN" x="528"/><use href="#dc" x="538"/><use href="#dx" x="558"/><use href="#ur" x="568"/><use href="#oY" x="578"/><use href="#uS" x="588"/><use href="#uS" x="598"/></g>
<g id="C16" transform="translate(0,208)"><path class="ln" d="M295 2.2H680"/><text class="lb" x="295" y="1.5">Tn</text><use href="#qa" x="328"/><use href="#qg" x="338"/><use href="#qL" x="348"/><use href="#qv" x="358"/><use href="#qO" x="368"/><use href="#qO" x="378"/><use href="#do" x="388"/><use href="#qk" x="398"/><use href="#qk" x="408"/><use href="#dw" x="518"/><use href="#qN" x="528"/><use href="#dc" x="538"/><use href="#qg" x="548"/><use href="#dx" x="558"/><use href="#ur" x="568"/><use href="#oY" x="578"/><use href="#uS" x="588"/><use href="#uS" x="598"/><use href="#uS" x="608"/></g>
<g id="C17" transform="translate(0,219)"><path class="ln" d="M295 2.2H680"/><text class="lb" x="295" y="1.5">Ga grI</text><use href="#qa" x="328"/><use href="#qg" x="338"/><use href="#qL" x="348"/><use href="#qv" x="358"/><use href="#qO" x="368"/><use href="#qO" x="378"/><use href="#do" x="388"/><use href="#qk" x="398"/><use href="#qk" x="408"/><use href="#qn" x="418"/><use href="#qw" x="468"/><use href="#dw" x="478"/><use href="#uw" x="488"/><use href="#qx" x="498"/><use href="#dw" x="508"/><use href="#dw" x="518"/><use href="#qN" x="528"/><use href="#dc" x="538"/><use href="#dx" x="558"/><use href="#ur" x="568"/><use href="#oY" x="578"/><use href="#uS" x="588"/><use href="#uS" x="598"/><use href="#uS" x="608"/><use href="#qm" x="618"/><use href="#qM" x="628"/><use href="#qm" x="638"/><use href="#qa" x="648"/><use href="#qR" x="658"/><use href="#qx" x="668"/></g>
<g id="C18" transform="translate(0,231)"><path class="ln" d="M295 2.2H680"/><text class="lb ls" x="295" y="1.5">On GL831147</text><use href="#dw" x="518"/><use href="#qN" x="528"/><use href="#dc" x="538"/><use href="#qg" x="548"/><use href="#dx" x="558"/><use href="#ur" x="568"/><use href="#oY" x="578"/><use href="#uS" x="588"/><use href="#uS" x="598"/><use href="#uS" x="608"/><use href="#qm" x="618"/></g>
<g id="C19" transform="translate(0,250)"><path class="ln" d="M295 2.2H680"/><text class="lb" x="295" y="1.5">Dr chr10</text><use href="#qN" x="528"/><use href="#qm" x="538"/><use href="#qs" x="548"/><use href="#dw" x="558"/><use href="#qc" x="568"/><use href="#oY" x="578"/><use href="#qw" x="588"/><use href="#uS" x="598"/><use href="#uS" x="608"/><use href="#uS" x="618"/></g>
<g id="C20" transform="translate(0,261)"><path class="ln" d="M295 2.2H680"/><text class="lb" x="295" y="1.5">Gmo s4368</text><use href="#oY" x="578"/><use href="#uS" x="588"/><use href="#uS" x="598"/><use href="#dS" x="608"/></g>
<g id="C21" transform="translate(0,272)"><path class="ln" d="M295 2.2H680"/><text class="lb" x="295" y="1.5">Ol chr14</text><use href="#qg" x="518"/><use href="#qn" x="528"/><use href="#qv" x="538"/><use href="#qc" x="568"/><use href="#oY" x="578"/><use href="#uS" x="588"/><use href="#dw" x="598"/><use href="#qN" x="608"/><use href="#qm" x="618"/><use href="#dw" x="628"/><use href="#qs" x="638"/><use href="#qv" x="648"/><use href="#qO" x="658"/></g>
<g id="C22" transform="translate(0,283)"><path class="ln" d="M295 2.2H680"/><text class="lb" x="295" y="1.5">Tr s455</text><use href="#qm" x="558"/><use href="#qc" x="568"/><use href="#oY" x="578"/><use href="#uS" x="588"/><use href="#dw" x="598"/><use href="#dw" x="608"/><use href="#qw" x="618"/></g>
<g id="C23" transform="translate(0,295)"><path class="ln" d="M295 2.2H680"/><text class="lb" x="295" y="1.5">Tn chr7</text><use href="#qg" x="538"/><use href="#qm" x="548"/><use href="#qN" x="558"/><use href="#qc" x="568"/><use href="#oY" x="578"/><use href="#uS" x="588"/><use href="#dw" x="598"/><use href="#dw" x="608"/><use href="#qs" x="618"/><use href="#qw" x="628"/><use href="#qO" x="638"/><use href="#qv" x="648"/></g>
<g id="C24" transform="translate(0,306)"><path class="ln" d="M295 2.2H680"/><text class="lb" x="295" y="1.5">Ga grVII</text><text class="sm" x="582" y="1.5">gap</text><use href="#qO" x="498"/><use href="#qv" x="508"/><use href="#qg" x="518"/><use href="#qn" x="528"/><use href="#qv" x="538"/><use href="#qa" x="548"/><use href="#dw" x="558"/><use href="#qs" x="568"/><use href="#dw" x="598"/><use href="#qm" x="608"/></g>
<g id="C25" transform="translate(0,317)"><path class="ln" d="M295 2.2H680"/><text class="lb" x="295" y="1.5">On</text><text class="sm" x="571" y="1.5" text-anchor="end">GL831515</text><text class="sm" x="625" y="1.5">GL831202</text><use href="#oY" x="578"/><use href="#uS" x="588"/><use href="#dw" x="598"/><use href="#qN" x="608"/><use href="#qm" x="618"/></g>
</g>
<g id="panelD" class="sy">
<g id="D1" transform="translate(0,361)"><path class="ln" d="M295 2.2H680"/><text class="lb" x="295" y="1.5">Hs chr11</text><use href="#qw" x="358"/><use href="#qB" x="368"/><use href="#qB" x="378"/><use href="#qc" x="388"/><use href="#qa" x="398"/><use href="#da" x="408"/><use href="#ug" x="418"/><use href="#qg" x="428"/><use href="#dg" x="438"/><use href="#qL" x="448"/><use href="#qL" x="458"/><use href="#qp" x="468"/><use href="#qk" x="498"/><use href="#do" x="508"/><use href="#uo" x="518"/><use href="#dO" x="528"/><use href="#qr" x="538"/><use href="#qR" x="548"/><use href="#qR" x="558"/><use href="#qR" x="568"/><use href="#qR" x="578"/><use href="#qx" x="588"/><use href="#dM" x="598"/><use href="#qM" x="608"/><use href="#qn" x="618"/><use href="#qn" x="628"/><use href="#dn" x="638"/><use href="#qm" x="648"/><use href="#qV" x="658"/><use href="#qv" x="668"/></g>
<g id="D2" transform="translate(0,372)"><path class="ln" d="M295 2.2H680"/><text class="lb" x="295" y="1.5">Mm chr19</text><use href="#qw" x="358"/><use href="#qB" x="368"/><use href="#qB" x="378"/><use href="#qc" x="388"/><use href="#qa" x="398"/><use href="#da" x="408"/><use href="#ug" x="418"/><use href="#qg" x="428"/><use href="#dg" x="438"/><use href="#qL" x="448"/><use href="#qL" x="458"/><use href="#qp" x="468"/><use href="#qk" x="498"/><use href="#do" x="508"/><use href="#uo" x="518"/><use href="#dO" x="528"/><use href="#qr" x="538"/><use href="#qR" x="548"/><use href="#qR" x="558"/><use href="#qR" x="568"/><use href="#qR" x="578"/><use href="#qx" x="588"/><use href="#dM" x="598"/><use href="#qM" x="608"/><use href="#qn" x="618"/><use href="#qn" x="628"/><use href="#dn" x="638"/><use href="#qm" x="648"/><use href="#qm" x="658"/><use href="#qv" x="668"/></g>
<g id="D3" transform="translate(0,383)"><path class="ln" d="M295 2.2H680"/><text class="lb" x="295" y="1.5">Md chr5</text><use href="#qw" x="358"/><use href="#qB" x="368"/><use href="#qB" x="378"/><use href="#qc" x="388"/><use href="#qa" x="398"/><use href="#da" x="408"/><use href="#qg" x="428"/><use href="#dg" x="438"/><use href="#qL" x="448"/><use href="#qL" x="458"/><use href="#qp" x="468"/><use href="#qk" x="498"/><use href="#do" x="508"/><use href="#uo" x="518"/><use href="#dO" x="528"/><use href="#qr" x="538"/><use href="#qR" x="548"/><use href="#qR" x="558"/></g>
<g id="D4" transform="translate(0,394)"><path class="ln" d="M295 2.2H680"/><text class="lb" x="295" y="1.5">Oa</text><use href="#qB" x="368"/><use href="#qB" x="378"/><use href="#ug" x="418"/><use href="#qg" x="428"/><use href="#qL" x="448"/><use href="#qk" x="498"/><use href="#do" x="508"/><use href="#qR" x="568"/></g>
<g id="D5" transform="translate(0,405)"><path class="ln" d="M295 2.2H680"/><text class="lb" x="295" y="1.5">Gg chr3</text><use href="#qk" x="488"/></g>
<g id="D6" transform="translate(0,417)"><path class="ln" d="M295 2.2H680"/><text class="lb" x="295" y="1.5">Tg chr3</text><use href="#qk" x="488"/></g>
<g id="D7" transform="translate(0,428)"><path class="ln" d="M295 2.2H680"/><text class="sm" x="303" y="-4">GL343828</text><text class="lb" x="295" y="2">Ac (x1265)</text><use href="#dg" x="438"/><use href="#qL" x="448"/><use href="#qL" x="458"/><use href="#qp" x="468"/><use href="#oY" x="478"/><use href="#qk" x="488"/><use href="#qk" x="498"/><use href="#do" x="508"/></g>
<g id="D8" transform="translate(0,439)"><path class="ln" d="M295 2.2H680"/><text class="lb ls" x="295" y="1.5">Cpb JH584543</text><use href="#qa" x="398"/><use href="#da" x="408"/><use href="#ug" x="418"/><use href="#qg" x="428"/><use href="#dg" x="438"/><use href="#qL" x="448"/><use href="#qL" x="458"/><use href="#qp" x="468"/><use href="#oY" x="478"/><use href="#qk" x="488"/><use href="#qk" x="498"/></g>
<g id="D9" transform="translate(0,449)"><path class="ln" d="M295 2.2H680"/><text class="sm" x="303" y="-3.5">GL173034</text><text class="lb" x="295" y="2">Xl (x396)</text><use href="#dM" x="408"/><use href="#qM" x="418"/><use href="#qg" x="428"/><use href="#dg" x="438"/><use href="#qL" x="458"/><use href="#qp" x="468"/><use href="#qk" x="488"/><use href="#qk" x="498"/><use href="#do" x="508"/><use href="#qw" x="518"/><use href="#qm" x="528"/><use href="#qV" x="538"/><use href="#qM" x="548"/></g>
<g id="D10" transform="translate(0,463)"><path class="ln" d="M295 2.2H680"/><text class="lb ls" x="295" y="1.5">Lc JH126893</text><use href="#dg" x="328"/><use href="#qL" x="338"/><use href="#qB" x="348"/><use href="#qB" x="358"/><use href="#qa" x="368"/><use href="#da" x="378"/><use href="#qx" x="388"/><use href="#qR" x="398"/><use href="#qR" x="408"/><use href="#qr" x="418"/><use href="#qO" x="428"/><use href="#qm" x="438"/><use href="#qc" x="448"/><use href="#uO" x="458"/><use href="#qL" x="468"/><use href="#oY" x="478"/><use href="#qp" x="488"/><use href="#qk" x="498"/><use href="#do" x="508"/><use href="#dO" x="518"/></g>
<g id="D11" transform="translate(0,486)"><path class="ln" d="M295 2.2H680"/><text class="lb" x="295" y="1.5">Lo LG28</text><use href="#qN" x="328"/><use href="#qR" x="338"/><use href="#qx" x="348"/><use href="#qk" x="358"/><use href="#qL" x="368"/><use href="#dg" x="378"/><use href="#qn" x="388"/><use href="#dM" x="398"/><use href="#dO" x="408"/><use href="#qa" x="418"/><use href="#qc" x="428"/><use href="#qg" x="438"/><use href="#qL" x="448"/><use href="#qL" x="458"/><use href="#qL" x="468"/><use href="#oY" x="478"/><use href="#qn" x="498"/><use href="#qv" x="508"/><use href="#qv" x="518"/></g>
<g id="D12" transform="translate(0,497)"><path class="ln" d="M295 2.2H680"/><text class="lb" x="295" y="1.5">Dr chr14</text><use href="#uw" x="358"/><use href="#qg" x="368"/><use href="#dO" x="378"/><use href="#qm" x="388"/><use href="#do" x="398"/><use href="#uw" x="408"/><use href="#qv" x="418"/><use href="#qv" x="428"/><use href="#qm" x="438"/><use href="#qx" x="448"/><use href="#qn" x="458"/><use href="#qp" x="468"/><use href="#oY" x="478"/><use href="#qp" x="488"/><use href="#qn" x="498"/><use href="#ug" x="508"/><use href="#dS" x="518"/><use href="#qa" x="528"/><use href="#da" x="538"/><use href="#qv" x="548"/><use href="#qc" x="558"/><use href="#qx" x="568"/><use href="#qR" x="578"/><use href="#qx" x="588"/></g>
<g id="D13" transform="translate(0,509)"><path class="ln" d="M295 2.2H680"/><text class="lb" x="295" y="1.5">Gmo s3610</text><use href="#uw" x="428"/><use href="#uw" x="438"/><use href="#qm" x="448"/><use href="#dM" x="458"/><use href="#qL" x="468"/><use href="#oY" x="478"/><use href="#qp" x="488"/><use href="#qn" x="498"/><use href="#ug" x="508"/><use href="#dS" x="518"/><use href="#qa" x="528"/><use href="#da" x="538"/><use href="#qv" x="548"/></g>
<g id="D14" transform="translate(0,520)"><path class="ln" d="M295 2.2H680"/><text class="lb" x="295" y="1.5">Ol chr10</text><use href="#do" x="408"/><use href="#uw" x="418"/><use href="#uw" x="428"/><use href="#qg" x="438"/><use href="#qm" x="448"/><use href="#dM" x="458"/><use href="#qL" x="468"/><use href="#oY" x="478"/><use href="#qp" x="488"/><use href="#qn" x="498"/><use href="#ug" x="508"/><use href="#dS" x="518"/><use href="#qa" x="528"/><use href="#da" x="538"/><use href="#qv" x="548"/><use href="#qc" x="558"/><use href="#qx" x="568"/><use href="#qR" x="578"/><use href="#qR" x="588"/><use href="#qx" x="598"/><use href="#dg" x="608"/><use href="#qn" x="618"/><use href="#qn" x="628"/><use href="#dO" x="638"/><use href="#qv" x="648"/><use href="#qv" x="658"/><use href="#qc" x="668"/></g>
<g id="D15" transform="translate(0,532)"><path class="ln" d="M295 2.2H680"/><text class="lb" x="295" y="1.5">Tr s187</text><use href="#uw" x="428"/><use href="#uw" x="438"/><use href="#qm" x="448"/><use href="#dM" x="458"/><use href="#qL" x="468"/><use href="#oY" x="478"/><use href="#qp" x="488"/><use href="#qn" x="498"/><use href="#ug" x="508"/><use href="#dS" x="518"/><use href="#qa" x="528"/><use href="#da" x="538"/><use href="#qv" x="548"/><use href="#qc" x="558"/><use href="#qx" x="568"/><use href="#qR" x="578"/><use href="#qk" x="588"/><use href="#dg" x="598"/><use href="#qn" x="608"/><use href="#dM" x="618"/><use href="#qO" x="628"/><use href="#dO" x="638"/><use href="#qL" x="648"/><use href="#qv" x="658"/><use href="#qv" x="668"/></g>
<g id="D16" transform="translate(0,543)"><path class="ln" d="M295 2.2H680"/><text class="lb" x="295" y="1.5">Tn chr1</text><use href="#uw" x="428"/><use href="#uw" x="438"/><use href="#qm" x="448"/><use href="#dM" x="458"/><use href="#qL" x="468"/><use href="#oY" x="478"/><use href="#qp" x="488"/><use href="#qn" x="498"/><use href="#ug" x="508"/><use href="#dS" x="518"/><use href="#qa" x="528"/><use href="#qv" x="548"/><use href="#qc" x="558"/><use href="#qx" x="568"/><use href="#qR" x="578"/><use href="#qn" x="608"/><use href="#qx" x="618"/><use href="#dO" x="628"/><use href="#qL" x="638"/><use href="#qv" x="648"/><use href="#qv" x="658"/></g>
<g id="D17" transform="translate(0,554)"><path class="ln" d="M295 2.2H680"/><text class="lb" x="295" y="1.5">Ga grIV</text><use href="#do" x="408"/><use href="#uw" x="418"/><use href="#uw" x="428"/><use href="#qg" x="438"/><use href="#qm" x="448"/><use href="#dM" x="458"/><use href="#qL" x="468"/><use href="#oY" x="478"/><use href="#qp" x="488"/><use href="#qn" x="498"/><use href="#ug" x="508"/><use href="#dS" x="518"/><use href="#qa" x="528"/><use href="#da" x="538"/><use href="#qv" x="548"/><use href="#uw" x="558"/><use href="#uS" x="568"/><use href="#qv" x="578"/><use href="#qR" x="588"/><use href="#qL" x="598"/><use href="#dO" x="608"/><use href="#qR" x="618"/><use href="#qx" x="628"/><use href="#qk" x="638"/><use href="#qR" x="648"/><use href="#qn" x="658"/><use href="#qc" x="668"/></g>
<g id="D18" transform="translate(0,566)"><path class="ln" d="M295 2.2H680"/><text class="lb ls" x="295" y="1.5">On GL831168</text><use href="#uw" x="428"/><use href="#uw" x="438"/><use href="#qm" x="448"/><use href="#dM" x="458"/><use href="#qL" x="468"/><use href="#oY" x="478"/><use href="#qp" x="488"/><use href="#qn" x="498"/><use href="#ug" x="508"/><use href="#dS" x="518"/><use href="#qa" x="528"/><use href="#da" x="538"/><use href="#qv" x="548"/><use href="#qc" x="558"/><use href="#qx" x="568"/><use href="#qR" x="578"/><use href="#qR" x="588"/><use href="#qk" x="598"/><use href="#dg" x="608"/><use href="#qn" x="618"/><use href="#dM" x="628"/><use href="#qO" x="638"/><use href="#qL" x="648"/><use href="#qv" x="658"/><use href="#qv" x="668"/></g>
<g id="D19" transform="translate(0,583)"><path class="ln" d="M295 2.2H680"/><text class="lb" x="295" y="1.5">Lo LG14</text><use href="#qw" x="448"/><use href="#qw" x="458"/><use href="#qw" x="468"/><use href="#qw" x="478"/><use href="#qw" x="488"/><use href="#qw" x="498"/><use href="#qw" x="508"/><use href="#qw" x="518"/><use href="#qw" x="528"/><use href="#qw" x="538"/><use href="#qw" x="548"/></g>
<g id="D20" transform="translate(0,595)"><path class="ln" d="M295 2.2H680"/><text class="lb" x="295" y="1.5">Dr chr24</text><use href="#qw" x="408"/><use href="#qw" x="418"/><use href="#qw" x="428"/><use href="#qw" x="438"/><use href="#qw" x="448"/><use href="#qw" x="458"/><use href="#qw" x="468"/><use href="#oY" x="478"/><use href="#qw" x="488"/><use href="#qw" x="498"/><use href="#qw" x="508"/><use href="#qw" x="518"/><use href="#qw" x="528"/><use href="#qw" x="538"/></g>
</g>
</svg>
